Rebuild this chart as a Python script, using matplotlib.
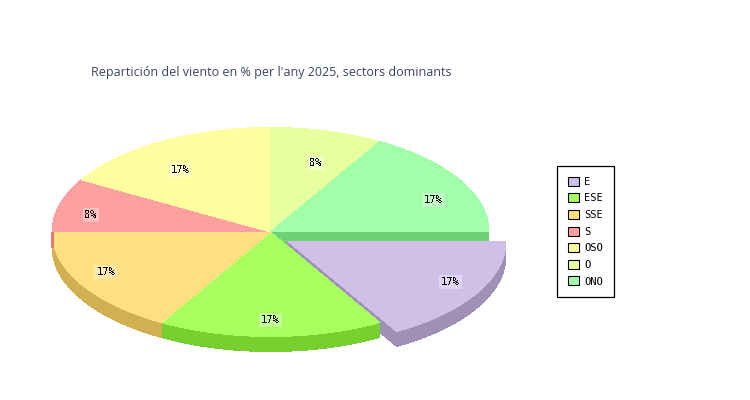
import matplotlib
matplotlib.use("Agg")
import matplotlib.pyplot as plt
from matplotlib.patches import Patch
import numpy as np

title = "Repartición del viento en % per l'any 2025, sectors dominants"
sectors = ["E", "ESE", "SSE", "S", "OSO", "O", "ONO"]
counts = [2, 2, 2, 1, 2, 1, 2]

top_colors = ["#d0c0e8", "#a8ff60", "#ffe080", "#ffa0a0", "#ffffa0", "#e8ffa0", "#a0ffa8"]
side_colors = ["#a090b8", "#78d030", "#d0b050", "#e87878", "#d0d070", "#b8d070", "#70d078"]

# pie geometry, in pixels
cx, cy = 270.5, 232
rx, ry = 218.5, 104.5
depth = 15
off_x, off_y = 17, 9
# where each label sits, as a fraction of the radius
label_fx = [.86, .86, .87, .85, .83, .80, .86]
label_fy = [.76, .83, .75, .66, .70, .69, .63]

def arc(a0, a1, ox=0, oy=0):
    t = np.radians(np.linspace(a0, a1, 80))
    return cx + ox + rx*np.cos(t), cy + oy + ry*np.sin(t)

def top(ax, a0, a1, color, ox=0, oy=0):
    x, y = arc(a0, a1, ox, oy)
    ax.fill(np.r_[cx+ox, x], np.r_[cy+oy, y], color=color, lw=0, antialiased=False)

def side(ax, a0, a1, color, ox=0, oy=0):
    x, y = arc(a0, a1, ox, oy)
    ax.fill(np.r_[x, x[::-1]], np.r_[y, y[::-1]+depth], color=color, lw=0, antialiased=False)

fig = plt.figure(figsize=(7.5, 4), dpi=100)
ax = fig.add_axes([0, 0, 1, 1])
ax.set_xlim(0, 750)
ax.set_ylim(400, 0)
ax.axis("off")

edges = np.r_[0, np.cumsum(counts)] / sum(counts) * 360

# cut side of the last slice shows behind the exploded one
ax.fill([cx, cx+rx, cx+rx, cx], [cy, cy, cy+depth, cy+depth], color=side_colors[6], lw=0, antialiased=False)

# exploded slice sides
a1 = edges[1]
side(ax, 0, a1, side_colors[0], off_x, off_y)
ex = cx + off_x + rx*np.cos(np.radians(a1))
ey = cy + off_y + ry*np.sin(np.radians(a1))
ax.fill([cx+off_x, ex, ex, cx+off_x], [cy+off_y, ey, ey+depth, cy+off_y+depth],
        color=side_colors[0], lw=0, antialiased=False)

# front sides of the rest
side(ax, edges[1], edges[2], side_colors[1])
side(ax, edges[2], edges[3], side_colors[2])
ax.vlines(cx-rx, cy, cy+depth, color=side_colors[3], lw=1, antialiased=False)

for i in range(1, len(counts)):
    top(ax, edges[i], edges[i+1], top_colors[i])
top(ax, edges[0], edges[1], top_colors[0], off_x, off_y)

for i, c in enumerate(counts):
    mid = np.radians((edges[i]+edges[i+1])/2)
    ox, oy = (off_x, off_y) if i == 0 else (0, 0)
    ax.text(cx+ox+rx*label_fx[i]*np.cos(mid), cy+oy+1+ry*label_fy[i]*np.sin(mid),
            "%d%%" % round(c/sum(counts)*100), family="DejaVu Sans Mono", fontsize=7.5,
            ha="center", va="center", antialiased=False,
            bbox=dict(fc="white", alpha=.35, ec="none", pad=1.5))

ax.text(91, 72.5, title, family="Open Sans", fontsize=8.98, color="#3a4560", va="center", ha="left")

handles = [Patch(fc=c, ec="black", lw=.8) for c in top_colors]
leg = ax.legend(handles, sectors, loc="upper left", bbox_to_anchor=(557/750, 1-166/400),
                borderaxespad=0, fancybox=False, framealpha=1, edgecolor="black",
                prop=dict(family="DejaVu Sans Mono", size=7.5), handlelength=1.05, handleheight=.95,
                handletextpad=.55, labelspacing=.63, borderpad=1.02)
leg.get_frame().set_linewidth(.9)

fig.savefig("out.png", dpi=100)
